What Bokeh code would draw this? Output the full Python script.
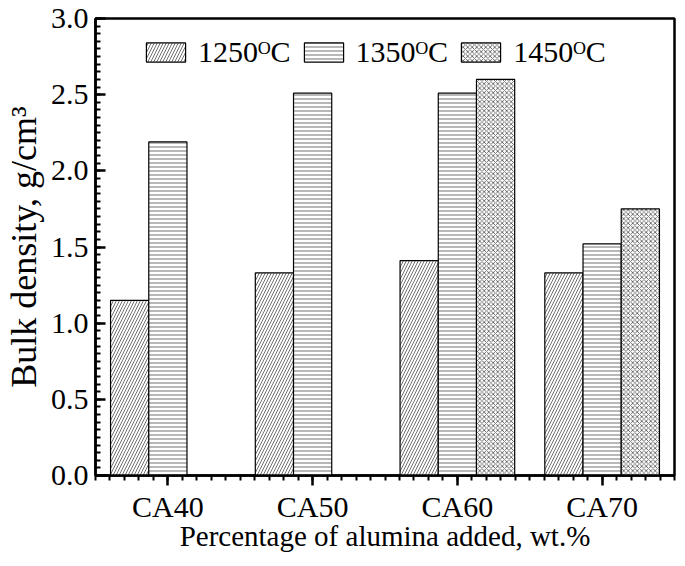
from bokeh.plotting import figure
from bokeh.models import FixedTicker, Legend, LegendItem, Range1d, ColumnDataSource
from bokeh.embed import file_html
from bokeh.resources import INLINE

# ---- data ----
categories = ["CA40", "CA50", "CA60", "CA70"]
bd_1250 = [1.15, 1.33, 1.41, 1.33]
bd_1350 = [2.19, 2.51, 2.51, 1.52]
bd_1450 = [None, None, 2.60, 1.75]
series_labels = ["1250\u1d3cC", "1350\u1d3cC", "1450\u1d3cC"]
y_ticks = [0.0, 0.5, 1.0, 1.5, 2.0, 2.5, 3.0]

FONT = "Liberation Serif"
BAR_W = 0.264
idx = list(range(1, len(categories) + 1))

p = figure(frame_width=579, frame_height=457,
           x_range=Range1d(0.5, 4.5), y_range=Range1d(0, 3.0),
           output_backend="svg", toolbar_location=None,
           min_border_left=94, min_border_top=18, min_border_right=4, min_border_bottom=78)

series = [bd_1250, bd_1350, bd_1450]
patterns = ["/", "-", "x"]
scales = [6, 4, 4.5]
offsets = [-BAR_W, 0.0, BAR_W]
renderers = []
for vals, pat, sc, off in zip(series, patterns, scales, offsets):
    xs = [i + off for i, v in zip(idx, vals) if v is not None]
    tops = [v for v in vals if v is not None]
    src = ColumnDataSource(dict(x=xs, top=tops))
    r = p.vbar(x="x", top="top", bottom=0, width=BAR_W, source=src,
               fill_color="white", line_color="black", line_width=1.2,
               hatch_pattern=pat, hatch_scale=sc, hatch_color="#333333",
               hatch_weight=0.7)
    renderers.append(r)

legend = Legend(items=[LegendItem(label=l, renderers=[r]) for l, r in zip(series_labels, renderers)],
                orientation="horizontal", location=(46, 406),
                border_line_color=None, background_fill_alpha=0,
                glyph_width=49, glyph_height=24, label_standoff=8, spacing=8,
                padding=0, margin=0,
                label_text_font=FONT, label_text_font_size="30px", label_text_color="black")
p.add_layout(legend)

p.xgrid.visible = False
p.ygrid.visible = False
p.outline_line_color = "black"
p.outline_line_width = 2.5

xminor = [0.5 + 0.1 * k for k in range(41)]
p.xaxis.ticker = FixedTicker(ticks=idx, minor_ticks=xminor)
p.xaxis.major_label_overrides = {i: c for i, c in zip(idx, categories)}
yminor = [0.05 * k for k in range(61)]
p.yaxis.ticker = FixedTicker(ticks=y_ticks, minor_ticks=yminor)
p.yaxis.major_label_overrides = {t: f"{t:.1f}" for t in y_ticks}

for ax in (p.xaxis[0], p.yaxis[0]):
    ax.axis_line_width = 2.5
    ax.axis_line_color = "black"
    ax.major_tick_line_width = 2.5
    ax.minor_tick_line_width = 2
    ax.major_label_text_font = FONT
    ax.major_label_text_font_size = "30px"
    ax.major_label_text_color = "black"
    ax.axis_label_text_font = FONT
    ax.axis_label_text_font_style = "normal"
    ax.axis_label_text_color = "black"

p.xaxis.major_tick_in = 0
p.xaxis.major_tick_out = 10
p.xaxis.minor_tick_in = 0
p.xaxis.minor_tick_out = 5
p.xaxis.major_label_standoff = 4
p.xaxis.axis_label_standoff = -6
p.xaxis.axis_label_text_font_size = "29px"
p.xaxis.axis_label = "Percentage of alumina added, wt.%"

p.yaxis.major_tick_in = 10
p.yaxis.major_tick_out = 0
p.yaxis.minor_tick_in = 5
p.yaxis.minor_tick_out = 0
p.yaxis.major_label_standoff = 7
p.yaxis.axis_label_standoff = 4
p.yaxis.axis_label_text_font_size = "36px"
p.yaxis.axis_label = "Bulk density, g/cm\u00b3"

open("out.html", "w").write(file_html(p, INLINE))
